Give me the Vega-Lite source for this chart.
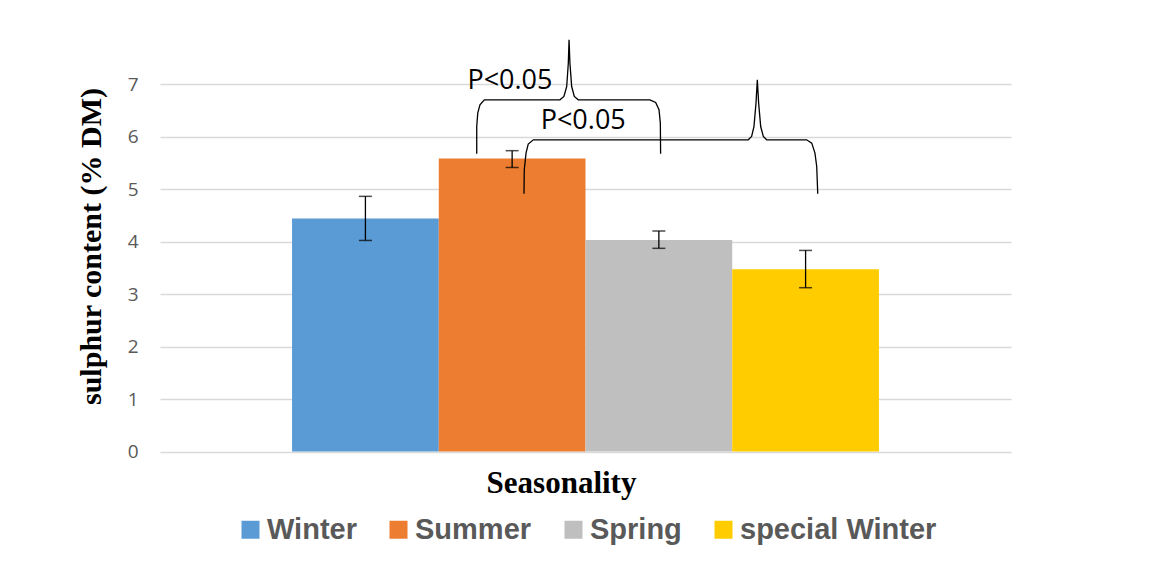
{
  "$schema": "https://vega.github.io/schema/vega-lite/v6.json",
  "width": 851,
  "height": 367.5,
  "autosize": {"type": "none"},
  "padding": {"left": 160, "top": 84, "right": 138, "bottom": 117.5},
  "background": "white",
  "config": {"view": {"stroke": null}, "font": "Open Sans"},
  "datasets": {
    "bars": [
      {"season": "Winter", "value": 4.44, "lo": 4.02, "hi": 4.86},
      {"season": "Summer", "value": 5.58, "lo": 5.41, "hi": 5.73},
      {"season": "Spring", "value": 4.03, "lo": 3.87, "hi": 4.2},
      {"season": "special  Winter", "value": 3.47, "lo": 3.12, "hi": 3.83}
    ],
    "braces": [
      {"b": 1, "o": 1, "x": 1.265, "y": 5.67},
      {"b": 1, "o": 2, "x": 1.265, "y": 6.19},
      {"b": 1, "o": 3, "x": 1.272, "y": 6.446},
      {"b": 1, "o": 4, "x": 1.287, "y": 6.604},
      {"b": 1, "o": 5, "x": 1.317, "y": 6.699},
      {"b": 1, "o": 6, "x": 1.834, "y": 6.699},
      {"b": 1, "o": 7, "x": 1.861, "y": 6.762},
      {"b": 1, "o": 8, "x": 1.88, "y": 6.952},
      {"b": 1, "o": 9, "x": 1.891, "y": 7.398},
      {"b": 1, "o": 10, "x": 1.896, "y": 7.842},
      {"b": 1, "o": 11, "x": 1.902, "y": 7.398},
      {"b": 1, "o": 12, "x": 1.914, "y": 6.952},
      {"b": 1, "o": 13, "x": 1.932, "y": 6.762},
      {"b": 1, "o": 14, "x": 1.959, "y": 6.699},
      {"b": 1, "o": 15, "x": 2.449, "y": 6.699},
      {"b": 1, "o": 16, "x": 2.488, "y": 6.648},
      {"b": 1, "o": 17, "x": 2.511, "y": 6.509},
      {"b": 1, "o": 18, "x": 2.52, "y": 6.255},
      {"b": 1, "o": 19, "x": 2.522, "y": 5.67},
      {"b": 2, "o": 1, "x": 1.588, "y": 4.909},
      {"b": 2, "o": 2, "x": 1.59, "y": 5.366},
      {"b": 2, "o": 3, "x": 1.602, "y": 5.684},
      {"b": 2, "o": 4, "x": 1.617, "y": 5.855},
      {"b": 2, "o": 5, "x": 1.652, "y": 5.937},
      {"b": 2, "o": 6, "x": 3.121, "y": 5.937},
      {"b": 2, "o": 7, "x": 3.144, "y": 6.0},
      {"b": 2, "o": 8, "x": 3.16, "y": 6.19},
      {"b": 2, "o": 9, "x": 3.174, "y": 6.636},
      {"b": 2, "o": 10, "x": 3.183, "y": 7.08},
      {"b": 2, "o": 11, "x": 3.192, "y": 6.636},
      {"b": 2, "o": 12, "x": 3.206, "y": 6.19},
      {"b": 2, "o": 13, "x": 3.224, "y": 6.0},
      {"b": 2, "o": 14, "x": 3.247, "y": 5.937},
      {"b": 2, "o": 15, "x": 3.52, "y": 5.937},
      {"b": 2, "o": 16, "x": 3.555, "y": 5.874},
      {"b": 2, "o": 17, "x": 3.577, "y": 5.684},
      {"b": 2, "o": 18, "x": 3.589, "y": 5.429},
      {"b": 2, "o": 19, "x": 3.596, "y": 4.909}
    ],
    "labels": [
      {"x": 1.492, "y": 7.061, "text": "P<0.05"},
      {"x": 1.993, "y": 6.299, "text": "P<0.05"}
    ]
  },
  "layer": [
    {
      "data": {"name": "bars"},
      "encoding": {
        "x": {
          "field": "season",
          "type": "nominal",
          "sort": ["Winter", "Summer", "Spring", "special  Winter"],
          "scale": {"paddingInner": 0, "paddingOuter": 0.9},
          "axis": {
            "labels": false,
            "ticks": false,
            "domain": false,
            "grid": false,
            "title": "Seasonality",
            "titleFont": "Liberation Serif",
            "titleFontSize": 31,
            "titleFontWeight": "bold",
            "titleColor": "black",
            "titlePadding": 17,
            "titleX": 401
          }
        }
      },
      "layer": [
        {
          "mark": {"type": "bar"},
          "encoding": {
            "y": {
              "field": "value",
              "type": "quantitative",
              "scale": {"domain": [0, 7], "nice": false},
              "axis": {
                "values": [0, 1, 2, 3, 4, 5, 6, 7],
                "format": "d",
                "grid": true,
                "gridColor": "#d9d9d9",
                "gridWidth": 1.5,
                "domain": false,
                "ticks": false,
                "labelPadding": 22,
                "labelFont": "Open Sans",
                "labelFontSize": 19,
                "labelColor": "#595959",
                "title": "sulphur content  (% DM)",
                "titleFont": "Liberation Serif",
                "titleFontSize": 30,
                "titleFontWeight": "bold",
                "titleColor": "black",
                "titlePadding": 21,
                "titleY": 162
              }
            },
            "color": {
              "field": "season",
              "type": "nominal",
              "sort": ["Winter", "Summer", "Spring", "special  Winter"],
              "scale": {
                "domain": ["Winter", "Summer", "Spring", "special  Winter"],
                "range": ["#5b9bd5", "#ed7d31", "#bfbfbf", "#ffcc00"]
              },
              "legend": {
                "orient": "none",
                "legendX": 76,
                "legendY": 431,
                "direction": "horizontal",
                "title": null,
                "symbolType": "square",
                "symbolSize": 324,
                "symbolStrokeWidth": 0,
                "labelFont": "Liberation Sans",
                "labelFontWeight": "bold",
                "labelFontSize": 29,
                "labelColor": "#595959",
                "labelLimit": 400,
                "labelOffset": 2,
                "columnPadding": 27
              }
            }
          }
        },
        {
          "mark": {"type": "rule", "color": "black", "strokeWidth": 1.3},
          "encoding": {
            "y": {"field": "lo", "type": "quantitative", "scale": {"domain": [0, 7], "nice": false}},
            "y2": {"field": "hi"}
          }
        },
        {
          "mark": {"type": "tick", "orient": "horizontal", "color": "black", "size": 13, "thickness": 1.5},
          "encoding": {
            "y": {"field": "lo", "type": "quantitative", "scale": {"domain": [0, 7], "nice": false}}
          }
        },
        {
          "mark": {"type": "tick", "orient": "horizontal", "color": "black", "size": 13, "thickness": 1.5},
          "encoding": {
            "y": {"field": "hi", "type": "quantitative", "scale": {"domain": [0, 7], "nice": false}}
          }
        }
      ]
    },
    {
      "data": {"name": "braces"},
      "mark": {"type": "line", "color": "black", "strokeWidth": 1.3, "interpolate": "linear"},
      "encoding": {
        "x": {"field": "x", "type": "quantitative", "scale": {"domain": [-0.9, 4.917], "nice": false, "zero": false}, "axis": null},
        "y": {"field": "y", "type": "quantitative", "scale": {"domain": [0, 7], "nice": false}},
        "detail": {"field": "b", "type": "nominal"},
        "order": {"field": "o", "type": "quantitative"}
      }
    },
    {
      "data": {"name": "labels"},
      "mark": {"type": "text", "font": "Open Sans", "fontSize": 27, "color": "black", "align": "center", "baseline": "middle"},
      "encoding": {
        "x": {"field": "x", "type": "quantitative", "scale": {"domain": [-0.9, 4.917], "nice": false, "zero": false}, "axis": null},
        "y": {"field": "y", "type": "quantitative", "scale": {"domain": [0, 7], "nice": false}},
        "text": {"field": "text"}
      }
    }
  ],
  "resolve": {"scale": {"x": "independent"}, "axis": {"x": "independent"}}
}
